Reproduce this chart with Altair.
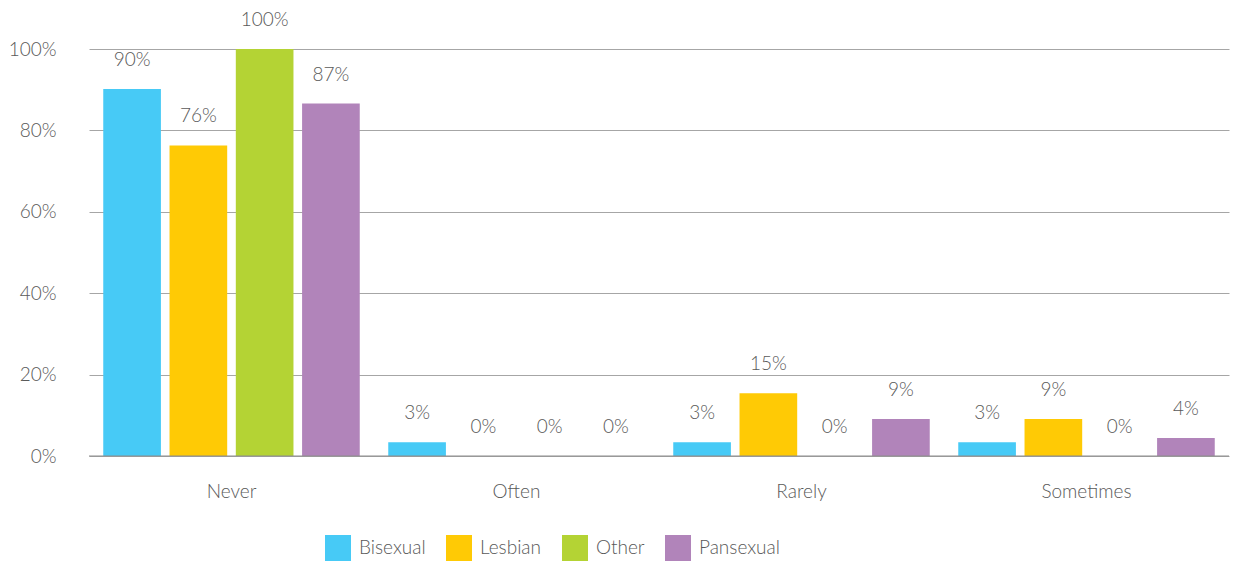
import altair as alt
import pandas as pd

categories = ["Never", "Often", "Rarely", "Sometimes"]
groups = ["Bisexual", "Lesbian", "Other", "Pansexual"]
bisexual = [0.902, 0.034, 0.034, 0.034]
lesbian = [0.763, 0.0, 0.154, 0.091]
other = [1.0, 0.0, 0.0, 0.0]
pansexual = [0.866, 0.0, 0.091, 0.044]
colors = ["#47caf6", "#ffca05", "#b4d334", "#b184ba"]
y_ticks = [0, 0.2, 0.4, 0.6, 0.8, 1.0]

series = {"Bisexual": bisexual, "Lesbian": lesbian, "Other": other, "Pansexual": pansexual}
rows = []
for g in groups:
    for c, v in zip(categories, series[g]):
        rows.append({"category": c, "group": g, "value": v})
df = pd.DataFrame(rows)

FONT = "Lato"
TXT = "#595959"
FS = 19
FW = 300

base = alt.Chart(df).encode(
    x=alt.X("category:N", sort=categories,
            scale=alt.Scale(paddingInner=0.1, paddingOuter=0.05),
            axis=alt.Axis(title=None, labelAngle=0, ticks=False, domain=False,
                          labelFontSize=FS, labelColor=TXT, labelFont=FONT,
                          labelFontWeight=FW, labelPadding=26, grid=False)),
    xOffset=alt.XOffset("group:N", sort=groups,
                        scale=alt.Scale(paddingInner=0.13, paddingOuter=0)),
)

bars = base.mark_bar().encode(
    y=alt.Y("value:Q", scale=alt.Scale(domain=[0, 1]),
            axis=alt.Axis(format=".0%", values=y_ticks, title=None, ticks=False,
                          domain=False, grid=True, gridColor="#a6a6a6", gridWidth=1,
                          labelFontSize=FS, labelColor=TXT, labelFont=FONT,
                          labelFontWeight=FW, labelPadding=33)),
    color=alt.Color("group:N",
                    scale=alt.Scale(domain=groups, range=colors),
                    legend=alt.Legend(title=None, orient="none", legendX=236, legendY=486,
                                      direction="horizontal", symbolType="square",
                                      symbolSize=676, symbolStrokeWidth=0,
                                      labelFontSize=FS, labelColor=TXT, labelFont=FONT,
                                      labelFontWeight=FW, labelOffset=8, columnPadding=20)),
)

labels = base.mark_text(dy=-29, fontSize=FS, color=TXT, font=FONT, fontWeight=FW,
                        baseline="middle").encode(
    y=alt.Y("value:Q"),
    text=alt.Text("value:Q", format=".0%"),
)

baseline = alt.Chart(pd.DataFrame({"z": [0]})).mark_rule(color="#8c8c8c", strokeWidth=1).encode(
    y=alt.Y("z:Q")
)

chart = alt.layer(bars, labels, baseline).properties(
    width=1140, height=407,
    padding={"top": 3, "left": 0, "right": 0, "bottom": 0}
).configure_view(stroke=None)

chart.save("out.html", embed_options={"renderer": "svg", "actions": False})
